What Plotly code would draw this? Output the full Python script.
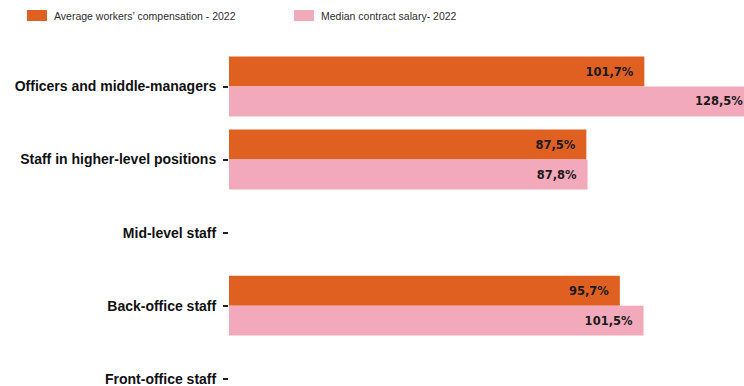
import plotly.graph_objects as go

categories = [
    "Officers and middle-managers",
    "Staff in higher-level positions",
    "Mid-level staff",
    "Back-office staff",
    "Front-office staff",
]
avg_compensation = [101.7, 87.5, None, 95.7, None]
median_salary = [128.5, 87.8, None, 101.5, None]
series_names = ["Average workers\u2019 compensation - 2022", "Median contract salary- 2022"]
colors = ["#E06022", "#F2A9BB"]

W, H = 744, 386
M_L, M_R, M_T, M_B = 229, 0, 50, 0
PLOT_W, PLOT_H = W - M_L - M_R, H - M_T - M_B


def px_to_paper_x(px):
    return (px - M_L) / PLOT_W


def px_to_paper_y(py):
    return (H - M_B - py) / PLOT_H


def pct_labels(values):
    # two no-break spaces keep the label clear of the bar end
    return ["" if v is None else f"{v:.1f}".replace(".", ",") + "%\u00a0\u00a0" for v in values]


fig = go.Figure()
for name, vals, col in zip(series_names, [avg_compensation, median_salary], colors):
    fig.add_trace(go.Bar(
        y=categories,
        x=vals,
        name=name,
        orientation="h",
        marker=dict(color=col, line=dict(width=0)),
        text=pct_labels(vals),
        textposition="inside",
        insidetextanchor="end",
        textangle=0,
        textfont=dict(family="DejaVu Sans", size=11.5, color="#1a1a1a", weight="bold"),
        showlegend=False,
    ))

# legend row along the top: swatch + label for each series
legend_swatches = [(27, 47), (294, 314)]
for (x0, x1), name, col in zip(legend_swatches, series_names, colors):
    fig.add_shape(
        type="rect", xref="paper", yref="paper",
        x0=px_to_paper_x(x0), x1=px_to_paper_x(x1),
        y0=px_to_paper_y(21), y1=px_to_paper_y(10),
        fillcolor=col, line=dict(width=0),
    )
    fig.add_annotation(
        xref="paper", yref="paper",
        x=px_to_paper_x(x1 + 5), y=px_to_paper_y(15.5),
        xanchor="left", yanchor="middle",
        text=name, showarrow=False,
        font=dict(family="Liberation Sans", size=10.5, color="#2e2e2e"),
    )

fig.update_layout(
    width=W,
    height=H,
    margin=dict(l=M_L, r=M_R, t=M_T, b=M_B),
    paper_bgcolor="white",
    plot_bgcolor="white",
    barmode="group",
    bargap=0.18,
    bargroupgap=0,
    showlegend=False,
    xaxis=dict(
        range=[0, 126.1],
        visible=False,
        showgrid=False,
        zeroline=False,
    ),
    yaxis=dict(
        categoryorder="array",
        categoryarray=categories,
        range=[4.1, -0.5],
        showgrid=False,
        zeroline=False,
        showline=False,
        ticks="outside",
        ticklen=5,
        tickwidth=2,
        tickcolor="#222222",
        ticklabelstandoff=4,
        tickfont=dict(family="Liberation Sans", size=14, color="#111111", weight="bold"),
    ),
)

fig.write_html("out.html")
